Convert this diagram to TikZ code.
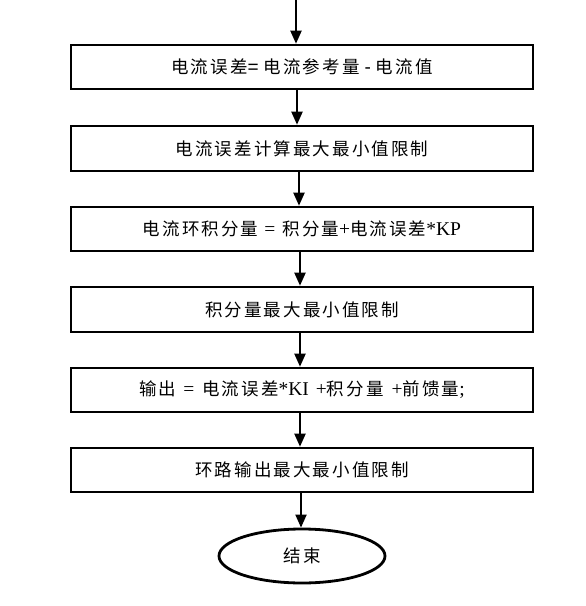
\documentclass[tikz,border=0pt]{standalone}
\usepackage{fontspec}
\setmainfont{Liberation Serif}
\newfontfamily\cjk[LetterSpace=12]{Noto Sans CJK SC}
\newfontfamily\cjksans{Liberation Sans}
\newcommand\lat{\rmfamily\fontsize{19.5}{20}\selectfont}
\newcommand\lsans{\cjksans\fontsize{19}{20}\selectfont}
\usetikzlibrary{arrows.meta,shapes.geometric}
\begin{document}
\begin{tikzpicture}[x=1pt,y=-1pt,
  stepbox/.style={draw,line width=2.6pt,minimum width=462pt,minimum height=44pt,inner sep=0pt,font=\fontsize{17.5}{20}\selectfont},
  endbox/.style={draw,ellipse,line width=2.8pt,minimum width=166pt,minimum height=54pt,inner sep=0pt,font=\fontsize{17.5}{20}\selectfont},
  arr/.style={line width=2pt,-{Triangle[length=13pt,width=11pt]}}]
\useasboundingbox (0,0) rectangle (586,606);
\coordinate (top) at (296,0);
\node[stepbox] (b1) at (302,67) {\cjk 电流误差{\lsans=}\hspace{5pt}电流参考量\hspace{5pt}{\lsans-}\hspace{5pt}电流值};
\node[stepbox,minimum height=45pt] (b2) at (302,148.5) {\cjk 电流误差计算最大最小值限制};
\node[stepbox] (b3) at (302,229) {\cjk 电流环积分量\hspace{6pt}{\lat=}\hspace{7pt}积分量{\lat+}电流误差{\lat*KP}};
\node[stepbox,minimum height=45pt] (b4) at (302,309.5) {\cjk 积分量最大最小值限制};
\node[stepbox] (b5) at (302,390) {\cjk 输出\hspace{7pt}{\lat=}\hspace{8pt}电流误差{\lat*KI}\hspace{7pt}{\lat+}积分量\hspace{8pt}{\lat+}前馈量{\lat;}};
\node[stepbox] (b6) at (302,470) {\cjk 环路输出最大最小值限制};
\node[endbox] (e) at (302,556) {\cjk 结束};
\draw[arr] (top) -- (b1.north -| top);
\draw[arr] (b1.south -| 297,0) -- (b2.north -| 297,0);
\draw[arr] (b2.south -| 299,0) -- (b3.north -| 299,0);
\draw[arr] (b3.south -| 300,0) -- (b4.north -| 300,0);
\draw[arr] (b4.south -| 300,0) -- (b5.north -| 300,0);
\draw[arr] (b5.south -| 300,0) -- (b6.north -| 300,0);
\draw[arr] (b6.south -| 301,0) -- (e.north -| 301,0);
\end{tikzpicture}
\end{document}
